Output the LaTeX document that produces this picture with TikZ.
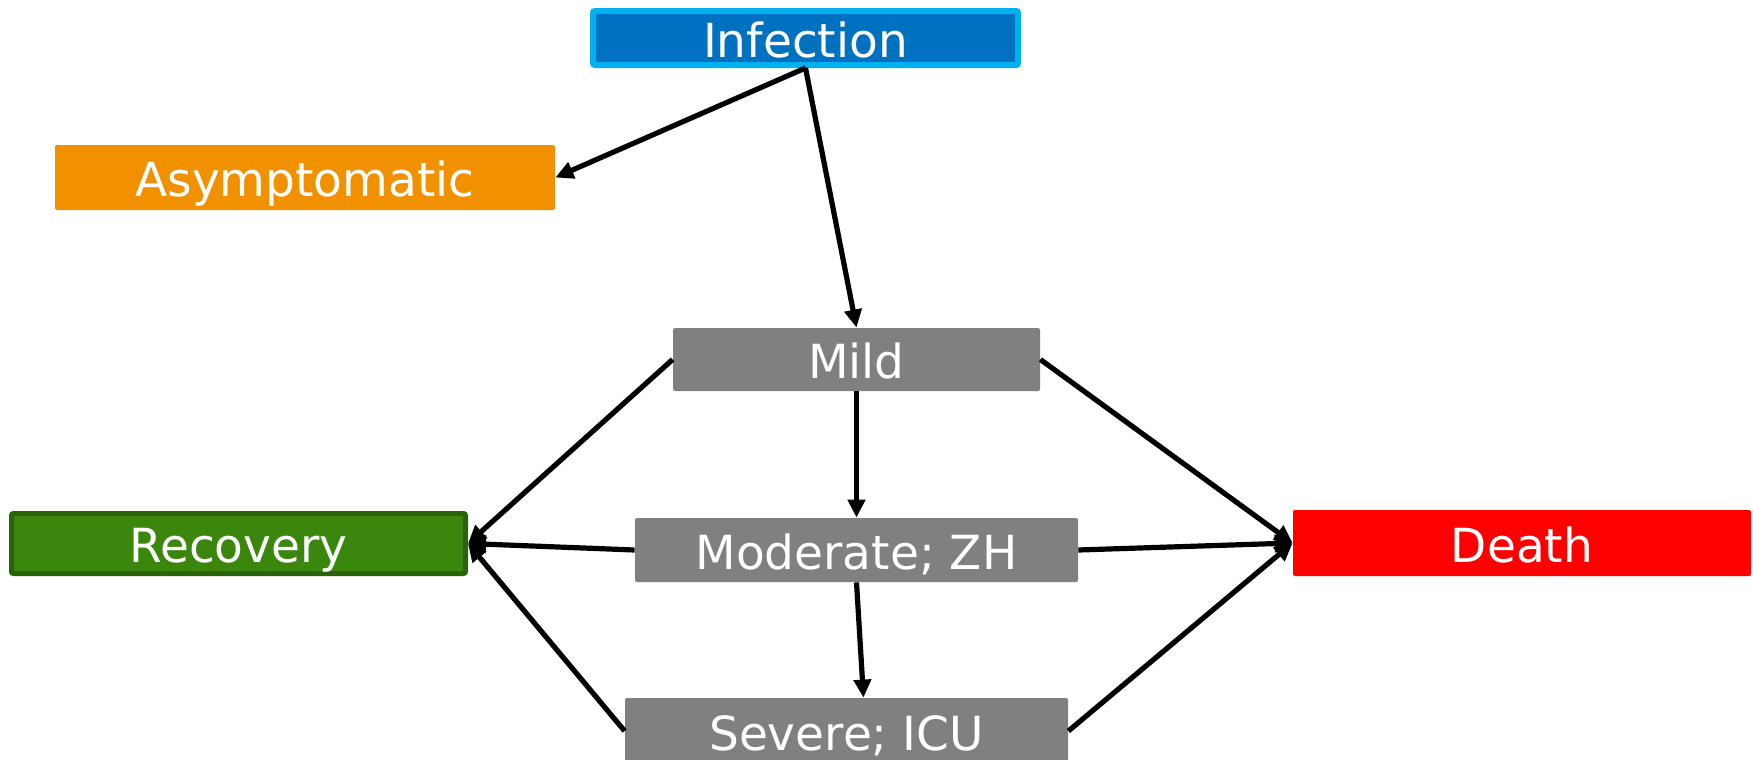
\documentclass[tikz,border=0pt]{standalone}
\usepackage{fontspec}
\setmainfont{DejaVu Sans}
\usetikzlibrary{positioning,arrows.meta}
\definecolor{infblue}{RGB}{0,112,192}
\definecolor{infedge}{RGB}{0,176,240}
\definecolor{asymorange}{RGB}{242,145,0}
\definecolor{stagegray}{RGB}{128,128,128}
\definecolor{recgreen}{RGB}{59,135,14}
\definecolor{recedge}{RGB}{42,100,10}
\definecolor{deathred}{RGB}{255,0,0}
\tikzset{>={Triangle[length=9pt,width=8.5pt]}}
\tikzset{
  state/.style={rectangle,rounded corners=1pt,inner sep=0pt,text=white,
    font=\fontsize{23.5}{28}\selectfont,text height=19.4pt,text depth=0pt},
  flow/.style={->,line width=2.6pt,line cap=butt}
}

\begin{document}
\begin{tikzpicture}[x=0.5pt,y=-0.5pt]
\useasboundingbox (0,0) rectangle (1753,760);

\node[state,fill=infblue,draw=infedge,line width=3pt,minimum width=212.5pt,minimum height=27pt] (inf) at (805.5,38) {Infection};
\node[state,fill=asymorange,minimum width=250pt,minimum height=32.5pt] (asym) at (305,177.5) {Asymptomatic};
\node[state,fill=stagegray,minimum width=183.5pt,minimum height=31.5pt] (mild) at (856.5,359.5) {Mild};
\node[state,fill=recgreen,draw=recedge,line width=2.5pt,minimum width=227pt,minimum height=30pt] (rec) at (238.5,543.5) {Recovery};
\node[state,fill=stagegray,minimum width=221.5pt,minimum height=32pt] (mod) at (856.5,550) {Moderate; ZH};
\node[state,fill=deathred,minimum width=229pt,minimum height=33pt] (death) at (1522,543) {Death};
\node[state,fill=stagegray,minimum width=221.5pt,minimum height=33pt] (sev) at (846.5,731) {Severe; ICU};

\draw[flow] (inf.south) -- (asym.east);
\draw[flow] (inf.south) -- (mild.north);
\draw[flow] (mild.south) -- (mod.north);
\draw[flow] (mod.south) -- ([xshift=8.5pt]sev.north);

\draw[flow] (mild.west) -- (rec.east);
\draw[flow] (mod.west) -- (rec.east);
\draw[flow] (sev.west) -- (rec.east);

\draw[flow] (mild.east) -- (death.west);
\draw[flow] (mod.east) -- (death.west);
\draw[flow] (sev.east) -- (death.west);
\end{tikzpicture}
\end{document}
